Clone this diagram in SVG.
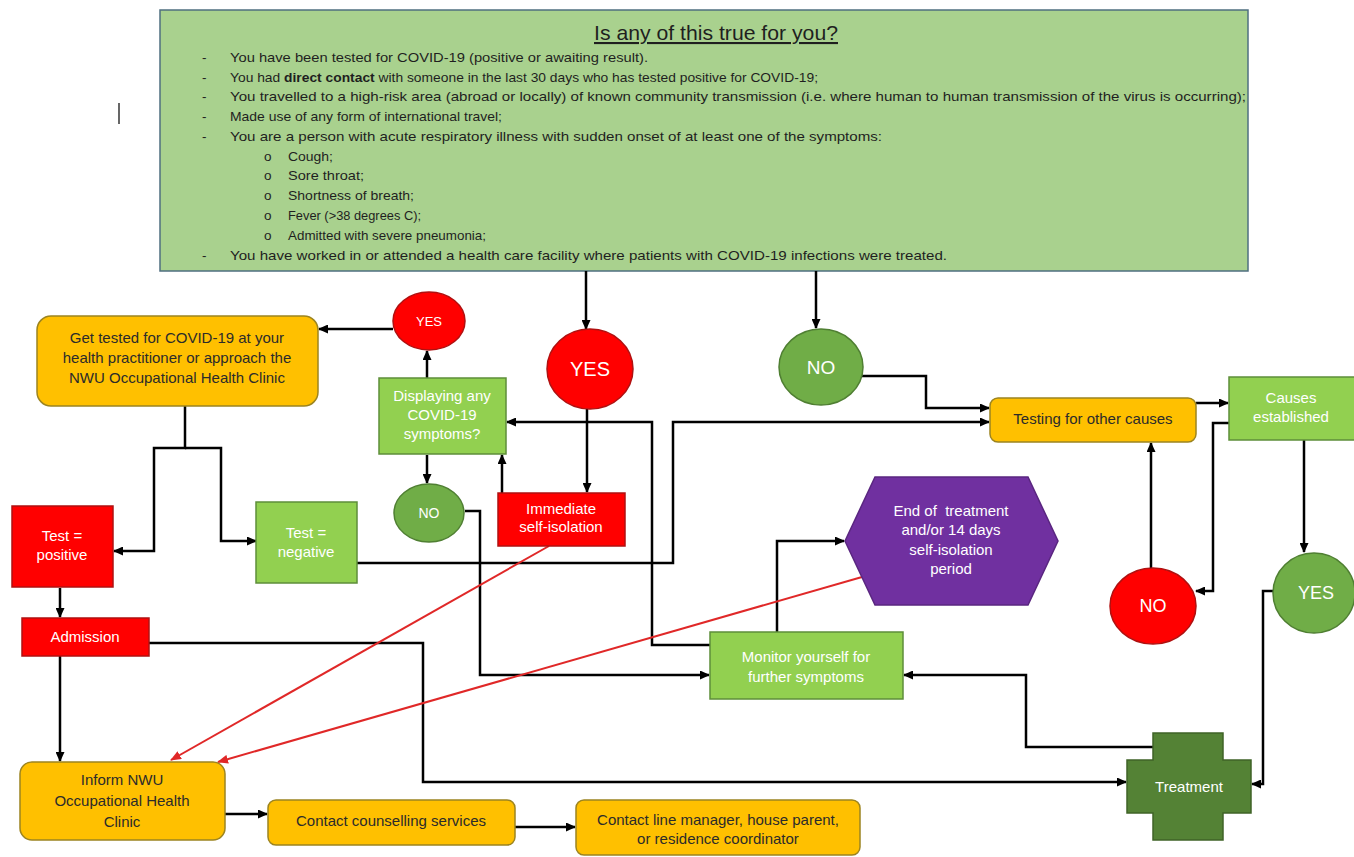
<svg xmlns="http://www.w3.org/2000/svg" width="1354" height="857" viewBox="0 0 1354 857">
<style>
text{font-family:"Liberation Sans",Arial,sans-serif;}
.t{font-size:13.5px;fill:#1f1f1f;}
.w{fill:#ffffff;text-anchor:middle;font-size:15px;}
.d{fill:#2b2b2b;text-anchor:middle;font-size:15px;}
.org{fill:#FFC000;stroke:#9C8420;stroke-width:1.5;}
.grn{fill:#92D050;stroke:#5E8E3A;stroke-width:1.5;}
.red{fill:#FF0000;stroke:#B01010;stroke-width:1.5;}
.gc{fill:#70AD47;stroke:#4F7F32;stroke-width:1.5;}
.ln{fill:none;stroke:#000;stroke-width:2.5;marker-end:url(#ah);}
.rl{fill:none;stroke:#E02828;stroke-width:2;marker-end:url(#rh);}
</style>
<defs>
<marker id="ah" markerUnits="userSpaceOnUse" markerWidth="10" markerHeight="9" refX="9" refY="4.5" orient="auto"><path d="M0,0 L10,4.5 L0,9 z" fill="#000"/></marker>
<marker id="rh" markerUnits="userSpaceOnUse" markerWidth="11" markerHeight="9" refX="10" refY="4.5" orient="auto"><path d="M0,0 L11,4.5 L0,9 z" fill="#E02828"/></marker>
</defs>
<rect width="1354" height="857" fill="#ffffff"/>
<line x1="119" y1="103" x2="119" y2="124" stroke="#000" stroke-width="1.2"/>

<g id="criteria">
<rect x="160" y="10" width="1088" height="261" fill="#A9D18E" stroke="#4F6F80" stroke-width="1.5"/>
<text x="716" y="40" text-anchor="middle" font-size="21" fill="#1f1f1f" text-decoration="underline" textLength="244" lengthAdjust="spacingAndGlyphs">Is any of this true for you?</text>
<g class="t">
<text x="202" y="62">-</text><text x="230" y="62" textLength="418" lengthAdjust="spacingAndGlyphs">You have been tested for COVID-19 (positive or awaiting result).</text>
<text x="202" y="82">-</text><text x="230" y="82" textLength="588" lengthAdjust="spacingAndGlyphs">You had <tspan font-weight="bold">direct contact</tspan> with someone in the last 30 days who has tested positive for COVID-19;</text>
<text x="202" y="101">-</text><text x="230" y="101" textLength="1016" lengthAdjust="spacingAndGlyphs">You travelled to a high-risk area (abroad or locally) of known community transmission (i.e. where human to human transmission of the virus is occurring);</text>
<text x="202" y="121">-</text><text x="230" y="121" textLength="272" lengthAdjust="spacingAndGlyphs">Made use of any form of international travel;</text>
<text x="202" y="141">-</text><text x="230" y="141" textLength="652" lengthAdjust="spacingAndGlyphs">You are a person with acute respiratory illness with sudden onset of at least one of the symptoms:</text>
<text x="264" y="161">o</text><text x="288" y="161" textLength="45" lengthAdjust="spacingAndGlyphs">Cough;</text>
<text x="264" y="180">o</text><text x="288" y="180" textLength="76" lengthAdjust="spacingAndGlyphs">Sore throat;</text>
<text x="264" y="200">o</text><text x="288" y="200" textLength="126" lengthAdjust="spacingAndGlyphs">Shortness of breath;</text>
<text x="264" y="220">o</text><text x="288" y="220" textLength="133" lengthAdjust="spacingAndGlyphs">Fever (&gt;38 degrees C);</text>
<text x="264" y="240">o</text><text x="288" y="240" textLength="198" lengthAdjust="spacingAndGlyphs">Admitted with severe pneumonia;</text>
<text x="202" y="260">-</text><text x="230" y="260" textLength="717" lengthAdjust="spacingAndGlyphs">You have worked in or attended a health care facility where patients with COVID-19 infections were treated.</text>
</g>
</g>

<g id="connectors">
<path class="ln" d="M586,271 V329"/>
<path class="ln" d="M816,271 V328"/>
<path class="ln" d="M587,409 V492"/>
<path class="ln" d="M502,493 V455"/>
<path class="ln" d="M427,378 V351"/>
<path class="ln" d="M393,329 H319"/>
<path class="ln" d="M427,455 V483"/>
<path class="ln" d="M465,511 H480 V675 H709"/>
<path class="ln" d="M710,645 H652 V422 H507"/>
<path class="ln" d="M185,406 V448 H154 V551 H114"/>
<path class="ln" d="M185,448 H221 V541 H256"/>
<path class="ln" d="M357,563 H673 V422 H989"/>
<path class="ln" d="M862,376 H926 V408 H989"/>
<path class="ln" d="M1196,403 H1228"/>
<path class="ln" d="M1229,423 H1213 V591 H1196"/>
<path class="ln" d="M1151,568 V443"/>
<path class="ln" d="M1304,440 V552"/>
<path class="ln" d="M1273,591 H1263 V784 H1252"/>
<path class="ln" d="M1153,747 H1026 V675 H904"/>
<path class="ln" d="M777,632 V541 H844"/>
<path class="ln" d="M149,643 H423 V782 H1126"/>
<path class="ln" d="M60,588 V617"/>
<path class="ln" d="M60,656 V761"/>
<path class="ln" d="M225,814 H267"/>
<path class="ln" d="M515,827 H575"/>
<path class="rl" d="M549,546 L171,760"/>
<path class="rl" d="M862,577 L218,762"/>
</g>

<g id="get-tested">
<rect class="org" x="37" y="316" width="281" height="90" rx="14"/>
<text class="d" x="177" y="343">Get tested for COVID-19 at your</text>
<text class="d" x="177" y="363">health practitioner or approach the</text>
<text class="d" x="177" y="383">NWU Occupational Health Clinic</text>
</g>
<g id="yes-small">
<ellipse class="red" cx="429" cy="321" rx="36" ry="29"/>
<text class="w" x="429" y="326" style="font-size:13px">YES</text>
</g>
<g id="yes-big">
<ellipse class="red" cx="590" cy="369" rx="43" ry="40"/>
<text class="w" x="590" y="376" style="font-size:20px">YES</text>
</g>
<g id="no-big">
<ellipse class="gc" cx="821" cy="367" rx="42" ry="38"/>
<text class="w" x="821" y="374" style="font-size:19px">NO</text>
</g>
<g id="displaying">
<rect class="grn" x="379" y="378" width="127" height="76"/>
<text class="w" x="442" y="401">Displaying any</text>
<text class="w" x="442" y="420">COVID-19</text>
<text class="w" x="442" y="439">symptoms?</text>
</g>
<g id="no-small">
<ellipse class="gc" cx="429" cy="513" rx="35" ry="29"/>
<text class="w" x="429" y="518" style="font-size:14px">NO</text>
</g>
<g id="self-isolation">
<rect class="red" x="498" y="493" width="127" height="53"/>
<text class="w" x="561" y="514">Immediate</text>
<text class="w" x="561" y="532">self-isolation</text>
</g>
<g id="testing-other">
<rect class="org" x="990" y="398" width="206" height="44" rx="8"/>
<text class="d" x="1093" y="424">Testing for other causes</text>
</g>
<g id="causes">
<rect class="grn" x="1229" y="377" width="130" height="63"/>
<text class="w" x="1291" y="403">Causes</text>
<text class="w" x="1291" y="422">established</text>
</g>
<g id="no-red">
<ellipse class="red" cx="1153" cy="606" rx="43" ry="38"/>
<text class="w" x="1153" y="612" style="font-size:18px">NO</text>
</g>
<g id="yes-green">
<ellipse class="gc" cx="1314" cy="593" rx="41" ry="40"/>
<text class="w" x="1316" y="599" style="font-size:18px">YES</text>
</g>
<g id="test-positive">
<rect class="red" x="12" y="506" width="101" height="81"/>
<text class="w" x="62" y="541">Test =</text>
<text class="w" x="62" y="560">positive</text>
</g>
<g id="test-negative">
<rect class="grn" x="256" y="502" width="101" height="81"/>
<text class="w" x="306" y="538">Test =</text>
<text class="w" x="306" y="557">negative</text>
</g>
<g id="admission">
<rect class="red" x="22" y="618" width="127" height="38"/>
<text class="w" x="85" y="642">Admission</text>
</g>
<g id="end-treatment">
<polygon points="845,541 875,477 1028,477 1058,541 1028,605 875,605" fill="#7030A0" stroke="#5A2680" stroke-width="1.5"/>
<text class="w" x="951" y="516" xml:space="preserve">End of  treatment</text>
<text class="w" x="951" y="535">and/or 14 days</text>
<text class="w" x="951" y="555">self-isolation</text>
<text class="w" x="951" y="574">period</text>
</g>
<g id="monitor">
<rect class="grn" x="710" y="632" width="193" height="67"/>
<text class="w" x="806" y="662">Monitor yourself for</text>
<text class="w" x="806" y="682">further symptoms</text>
</g>
<g id="treatment">
<path d="M1153,733 H1223 V760 H1251 V813 H1223 V840 H1153 V813 H1127 V760 H1153 Z" fill="#548235" stroke="#3F6327" stroke-width="1.5"/>
<text class="w" x="1189" y="792">Treatment</text>
</g>
<g id="inform">
<rect class="org" x="20" y="762" width="205" height="78" rx="12"/>
<text class="d" x="122" y="785">Inform NWU</text>
<text class="d" x="122" y="806">Occupational Health</text>
<text class="d" x="122" y="827">Clinic</text>
</g>
<g id="counselling">
<rect class="org" x="268" y="800" width="247" height="45" rx="8"/>
<text class="d" x="391" y="826">Contact counselling services</text>
</g>
<g id="line-manager">
<rect class="org" x="576" y="800" width="284" height="55" rx="8"/>
<text class="d" x="718" y="825">Contact line manager, house parent,</text>
<text class="d" x="718" y="844">or residence coordinator</text>
</g>
</svg>
